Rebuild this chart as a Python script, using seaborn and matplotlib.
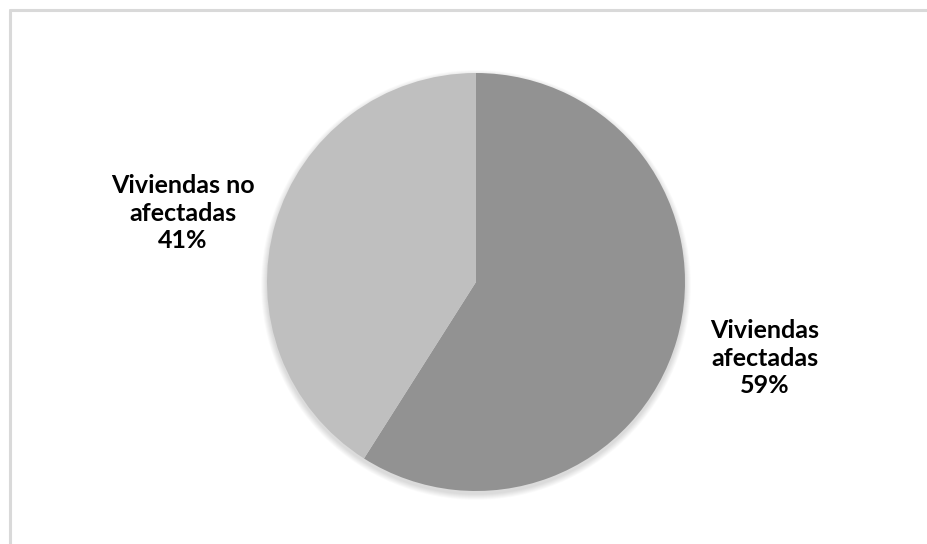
import matplotlib
matplotlib.use("Agg")
import matplotlib.pyplot as plt
import seaborn as sns
from matplotlib.lines import Line2D
from matplotlib.patches import Circle

sns.set_theme(style="white")
plt.rcParams['font.family'] = ['Lato', 'DejaVu Sans']

categories = ["Viviendas afectadas", "Viviendas no afectadas"]
label_text = ["Viviendas\nafectadas", "Viviendas no\nafectadas"]
values = [59, 41]
colors = ["#929292", "#bfbfbf"]

fig = plt.figure(figsize=(9.28, 5.44), dpi=100)
fig.patch.set_facecolor("white")
ax = fig.add_axes([0, 0, 1, 1])

cx, cy, r = 476, 262, 209

# soft shadow
for i in range(12):
    ax.add_patch(Circle((cx, cy - 3), r + 6 - i * 0.5, color="black",
                        alpha=0.012, lw=0, zorder=0))

ax.pie(values, colors=colors, startangle=90, counterclock=False,
       center=(cx, cy), radius=r, frame=True,
       wedgeprops=dict(linewidth=0))
ax.set_xlim(0, 928)
ax.set_ylim(0, 544)
ax.set_aspect("equal")
ax.axis("off")

label_pos = [(765, 186), (183, 331)]
for txt, v, (x, y) in zip(label_text, values, label_pos):
    ax.text(x, y, f"{txt}\n{v}%", ha="center", va="center",
            fontsize=18, fontweight="bold", color="black",
            linespacing=1.22)

# border (top and left visible)
fig.add_artist(Line2D([10 / 928, 1], [534 / 544, 534 / 544],
                      transform=fig.transFigure, color="#d9d9d9", lw=2.2))
fig.add_artist(Line2D([10 / 928, 10 / 928], [0, 534 / 544],
                      transform=fig.transFigure, color="#d9d9d9", lw=2.2))

fig.savefig("out.png", dpi=100, facecolor="white")
